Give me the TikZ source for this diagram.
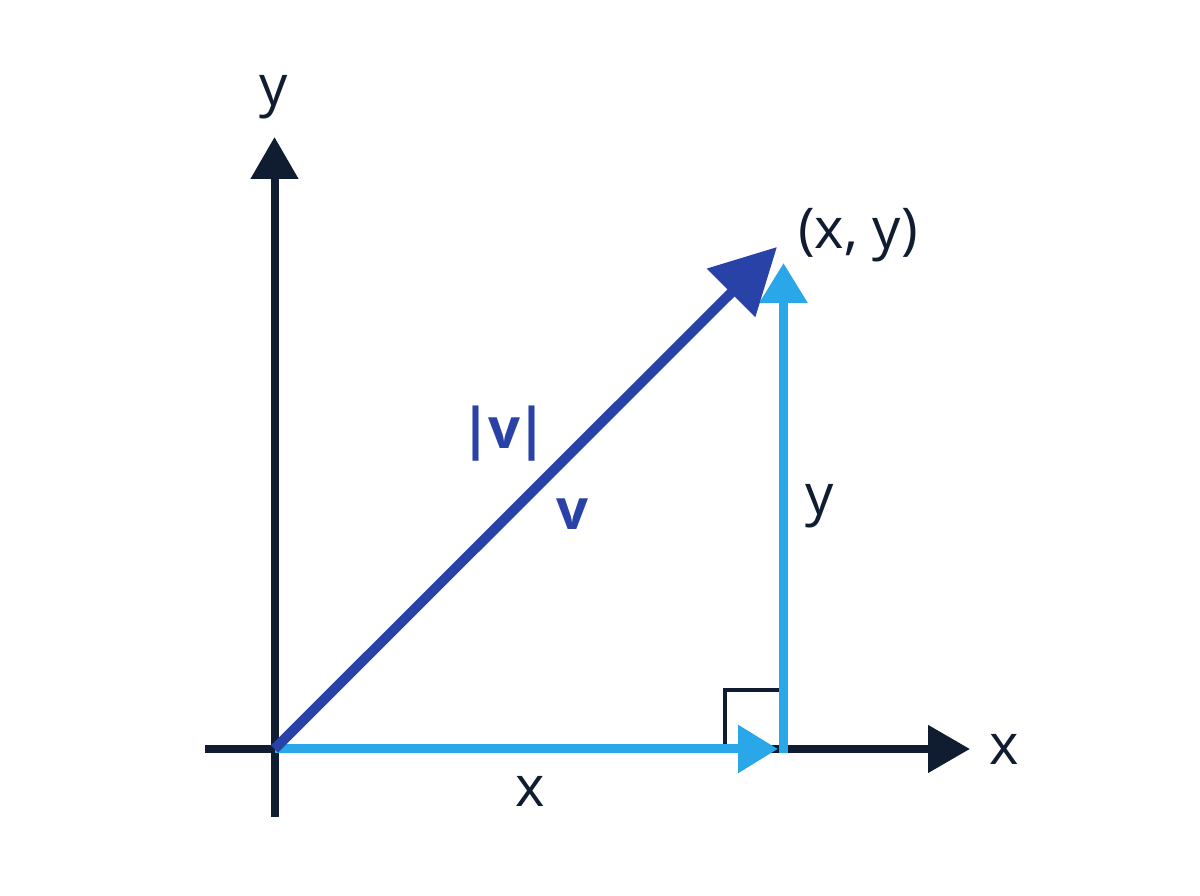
\documentclass[tikz,border=0pt]{standalone}
\usepackage{fontspec}
\setmainfont{Open Sans}
\usepackage{tikz}
\usetikzlibrary{arrows.meta, positioning}

\definecolor{navy}{RGB}{16,28,48}
\definecolor{vecblue}{RGB}{40,66,168}
\definecolor{compblue}{RGB}{41,167,233}

\begin{document}
\begin{tikzpicture}[
	axis/.style={navy, line width=0.08cm, -{Triangle[length=0.42cm, width=0.46cm]}},
	comp/.style={compblue, line width=0.09cm, -{Triangle[length=0.4cm, width=0.46cm]}},
	vec/.style={vecblue, line width=0.1cm, -{Triangle[length=0.65cm, width=0.66cm]}},
	lbl/.style={navy, font=\fontsize{16}{19}\selectfont},
	vlbl/.style={vecblue, font=\fontsize{16}{19}\selectfont\bfseries}]
	\useasboundingbox (0,0) rectangle (12,8.96);

	\coordinate (O) at (2.745,1.47);
	\coordinate (xl) at (2.05,1.47);
	\coordinate (xr) at (9.70,1.47);
	\coordinate (yb) at (2.745,0.79);
	\coordinate (yt) at (2.745,7.59);
	\coordinate (Xe) at (7.78,1.47);
	\coordinate (Xc) at (7.835,1.43);
	\coordinate (Ye) at (7.835,6.33);
	\coordinate (P) at (7.77,6.49);

	\draw[axis] (xl) -- (xr);
	\draw[axis] (yb) -- (yt);

	\draw[navy, line width=0.04cm] (7.25,1.47) -- (7.25,2.06) -- (7.84,2.06);

	\draw[comp] (O) -- (Xe);
	\draw[comp] (Xc) -- (Ye);
	\draw[vec] (O) -- (P);

	\node[lbl] (ylab) at (2.74,7.99) {y};
	\node[lbl] (xlab) at (10.04,1.47) {x};
	\node[lbl] (xcomp) at (5.30,1.05) {x};
	\node[lbl] (ycomp) at (8.20,3.90) {y};
	\node[lbl] (pt) at (8.58,6.61) {(x, y)};
	\node[vlbl] (norm) at (5.04,4.62) {|\kern-1pt v\kern-1pt|};
	\node[vlbl] (vname) at (5.72,3.82) {v};
\end{tikzpicture}
\end{document}
